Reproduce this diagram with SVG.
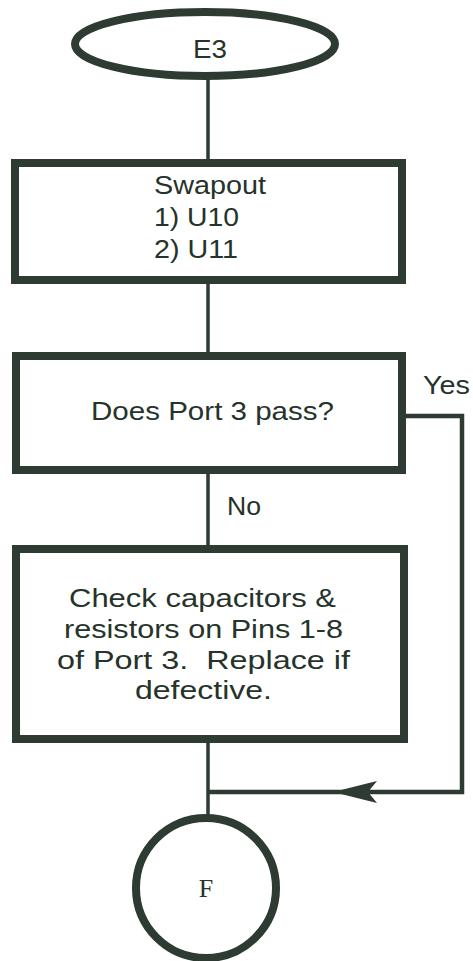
<svg xmlns="http://www.w3.org/2000/svg" width="473" height="961" viewBox="0 0 473 961">
<style>
.shape{fill:#ffffff;stroke:#2d3b32;stroke-width:8}
.line{fill:none;stroke:#2d3b32;stroke-width:3.5}
.yes{fill:none;stroke:#2d3b32;stroke-width:4.5}
.t{font-family:"Liberation Sans","Open Sans",sans-serif;font-size:25px;fill:#26332a}
.s{font-family:"Liberation Serif",serif;font-size:26px;fill:#26332a}
</style>
<rect width="473" height="961" fill="#ffffff"/>
<g id="connectors">
<line class="line" x1="208" y1="76" x2="208" y2="160"/>
<line class="line" x1="208" y1="283" x2="208" y2="353"/>
<line class="line" x1="208" y1="473" x2="208" y2="546"/>
<line class="line" x1="208" y1="742" x2="208" y2="818"/>
<polyline class="yes" points="406,416 462,416 462,792 208,792"/>
<path d="M333,792 L377,781 L368,792 L377,803 Z" fill="#2d3b32"/>
<text class="t" x="423" y="394" textLength="47" lengthAdjust="spacingAndGlyphs">Yes</text>
<text class="t" x="227" y="515" textLength="34" lengthAdjust="spacingAndGlyphs">No</text>
</g>
<g id="start">
<ellipse class="shape" cx="205" cy="44" rx="130" ry="32" stroke-width="7"/>
<text class="t" x="210" y="58" text-anchor="middle" font-size="26" textLength="34" lengthAdjust="spacingAndGlyphs">E3</text>
</g>
<g id="swapout">
<rect class="shape" x="15" y="163" width="387" height="117"/>
<text class="t" x="154" y="194" font-size="26" textLength="112" lengthAdjust="spacingAndGlyphs">Swapout</text>
<text class="t" x="154" y="226" font-size="26" textLength="85" lengthAdjust="spacingAndGlyphs">1) U10</text>
<text class="t" x="154" y="258" font-size="26" textLength="84" lengthAdjust="spacingAndGlyphs">2) U11</text>
</g>
<g id="decision">
<rect class="shape" x="16" y="356" width="386" height="114"/>
<text class="t" x="91" y="420" textLength="243" lengthAdjust="spacingAndGlyphs">Does Port 3 pass?</text>
</g>
<g id="check">
<rect class="shape" x="16" y="549" width="388" height="190"/>
<text class="t" x="69" y="607" textLength="267" lengthAdjust="spacingAndGlyphs">Check capacitors &amp;</text>
<text class="t" x="64" y="638" textLength="279" lengthAdjust="spacingAndGlyphs">resistors on Pins 1-8</text>
<text class="t" x="57" y="669" textLength="293" lengthAdjust="spacingAndGlyphs" xml:space="preserve">of Port 3.  Replace if</text>
<text class="t" x="135" y="699" textLength="137" lengthAdjust="spacingAndGlyphs">defective.</text>
</g>
<g id="end">
<circle class="shape" cx="206" cy="888" r="70"/>
<text class="s" x="206" y="897" text-anchor="middle">F</text>
</g>
</svg>
